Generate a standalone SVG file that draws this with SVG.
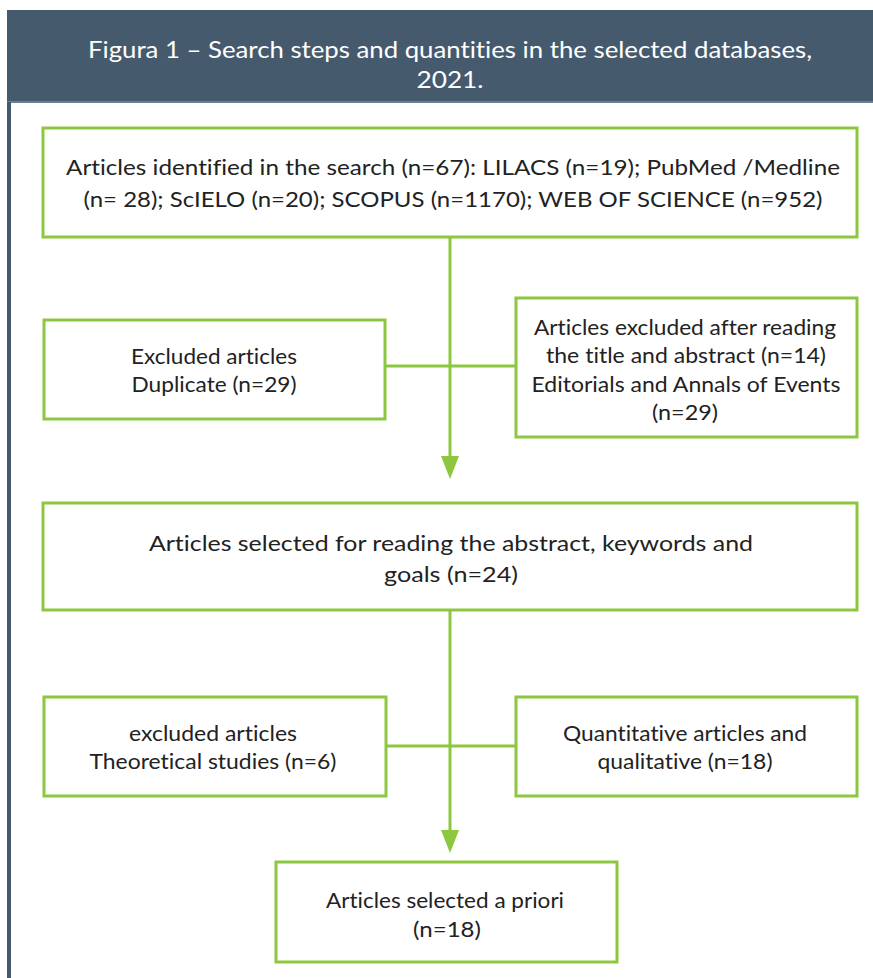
<svg xmlns="http://www.w3.org/2000/svg" width="873" height="978" viewBox="0 0 873 978">
<defs>
<style>
.box{fill:#fff;stroke:#8dc63f;stroke-width:3}
.t{font-family:Lato,"Open Sans",sans-serif;font-size:22px;fill:#222;text-anchor:middle;font-variant-ligatures:none;font-feature-settings:"liga" 0,"dlig" 0}
.h{font-family:Lato,"Open Sans",sans-serif;font-size:24px;fill:#fff;text-anchor:middle;font-variant-ligatures:none;font-feature-settings:"liga" 0,"dlig" 0}
.c{stroke:#8dc63f;stroke-width:3;fill:none}
</style>
</defs>
<rect width="873" height="978" fill="#fff"/>
<g id="header">
<rect x="7" y="10" width="866" height="92" fill="#465a6e"/>
<rect x="7" y="101" width="866" height="2" fill="#6d7e8e"/>
<rect x="7" y="102" width="4" height="876" fill="#465a6e"/>
<text class="h" x="450" y="58" textLength="724" lengthAdjust="spacingAndGlyphs">Figura 1 – Search steps and quantities in the selected databases,</text>
<text class="h" x="450" y="88" textLength="67" lengthAdjust="spacingAndGlyphs">2021.</text>
</g>
<g id="connectors">
<line class="c" x1="450" y1="237" x2="450" y2="458"/>
<path d="M441,456 L459,456 L450,479 Z" fill="#8dc63f"/>
<line class="c" x1="385" y1="366" x2="516" y2="366"/>
<line class="c" x1="450" y1="610" x2="450" y2="832"/>
<path d="M441,830 L459,830 L450,853 Z" fill="#8dc63f"/>
<line class="c" x1="386" y1="746" x2="516" y2="746"/>
</g>
<g id="n1">
<rect class="box" x="43" y="128" width="814" height="109"/>
<text class="t" x="453" y="175" textLength="774" lengthAdjust="spacingAndGlyphs">Articles identified in the search (n=67): LILACS (n=19); PubMed /Medline</text>
<text class="t" x="453" y="207" textLength="739" lengthAdjust="spacingAndGlyphs">(n= 28); ScIELO (n=20); SCOPUS (n=1170); WEB OF SCIENCE (n=952)</text>
</g>
<g id="n2">
<rect class="box" x="44" y="320" width="341" height="99"/>
<text class="t" x="214" y="364" textLength="166" lengthAdjust="spacingAndGlyphs">Excluded articles</text>
<text class="t" x="214" y="392" textLength="165" lengthAdjust="spacingAndGlyphs">Duplicate (n=29)</text>
</g>
<g id="n3">
<rect class="box" x="516" y="298" width="341" height="139"/>
<text class="t" x="685" y="335" textLength="302" lengthAdjust="spacingAndGlyphs">Articles excluded after reading</text>
<text class="t" x="686" y="363" textLength="280" lengthAdjust="spacingAndGlyphs">the title and abstract (n=14)</text>
<text class="t" x="686" y="392" textLength="309" lengthAdjust="spacingAndGlyphs">Editorials and Annals of Events</text>
<text class="t" x="685" y="420" textLength="66" lengthAdjust="spacingAndGlyphs">(n=29)</text>
</g>
<g id="n4">
<rect class="box" x="43" y="503" width="814" height="107"/>
<text class="t" x="451" y="551" textLength="604" lengthAdjust="spacingAndGlyphs">Articles selected for reading the abstract, keywords and</text>
<text class="t" x="451" y="582" textLength="134" lengthAdjust="spacingAndGlyphs">goals (n=24)</text>
</g>
<g id="n5">
<rect class="box" x="44" y="697" width="342" height="99"/>
<text class="t" x="213" y="741" textLength="168" lengthAdjust="spacingAndGlyphs">excluded articles</text>
<text class="t" x="213" y="769" textLength="247" lengthAdjust="spacingAndGlyphs">Theoretical studies (n=6)</text>
</g>
<g id="n6">
<rect class="box" x="516" y="697" width="341" height="99"/>
<text class="t" x="685" y="741" textLength="244" lengthAdjust="spacingAndGlyphs">Quantitative articles and</text>
<text class="t" x="685" y="769" textLength="175" lengthAdjust="spacingAndGlyphs">qualitative (n=18)</text>
</g>
<g id="n7">
<rect class="box" x="276" y="862" width="341" height="100"/>
<text class="t" x="445" y="908" textLength="238" lengthAdjust="spacingAndGlyphs">Articles selected a priori</text>
<text class="t" x="447" y="937" textLength="68" lengthAdjust="spacingAndGlyphs">(n=18)</text>
</g>
</svg>
